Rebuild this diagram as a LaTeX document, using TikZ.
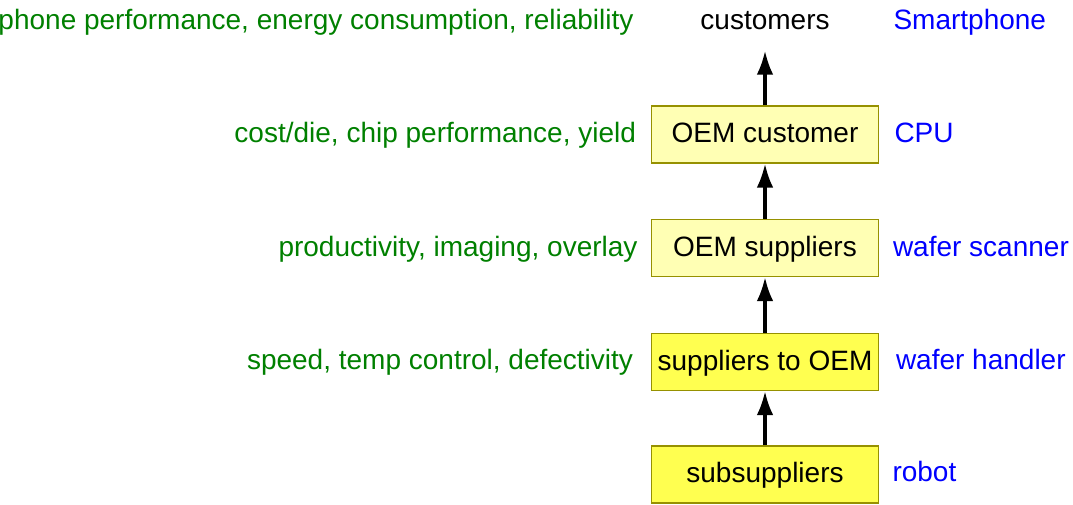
\documentclass[tikz,border=0pt]{standalone}
\usepackage{fontspec}
\setmainfont{Liberation Sans}
\usetikzlibrary{arrows.meta}

\definecolor{lightyel}{RGB}{255,255,180}
\definecolor{brightyel}{RGB}{255,255,80}
\definecolor{boxline}{RGB}{150,145,0}
\definecolor{critgreen}{RGB}{0,128,0}
\definecolor{prodblue}{RGB}{0,0,255}

\tikzset{every picture/.style={line width=0.75pt}}
\tikzset{
  level/.style={draw=boxline, line width=1pt, minimum width=170pt, minimum height=42.75pt,
    inner sep=0pt, text height=15pt, text depth=3pt, font=\fontsize{21}{24}\selectfont},
  crit/.style={text=critgreen, inner sep=0pt, anchor=base east, font=\fontsize{21}{24}\selectfont},
  prod/.style={text=prodblue, inner sep=0pt, anchor=base west, font=\fontsize{21}{24}\selectfont},
  flow/.style={line width=2.4pt, -{Latex[length=18pt,width=12.5pt]}}
}

\begin{document}
\begin{tikzpicture}[x=0.75pt,y=0.75pt,yscale=-1,xscale=1]
	\useasboundingbox (0,0) rectangle (1073,504);

	% Text Node
	\node (cust) [inner sep=0pt, anchor=base, font=\fontsize{21}{24}\selectfont] at (765,29.3) {customers};
	%Shape: Rectangle
	\node (oemc) [level, fill=lightyel] at (765,134.5) {OEM customer};
	%Shape: Rectangle
	\node (oems) [level, fill=lightyel] at (765,248) {OEM suppliers};
	%Shape: Rectangle
	\node (supp) [level, fill=brightyel] at (765,362) {suppliers to OEM};
	%Shape: Rectangle
	\node (subs) [level, fill=brightyel] at (765,474.5) {subsuppliers};

	%Straight Lines
	\draw [flow, shorten >=15.5pt] (oemc.north) -- (cust.south);
	\draw [flow] (oems.north) -- (oemc.south);
	\draw [flow] (supp.north) -- (oems.south);
	\draw [flow] (subs.north) -- (supp.south);

	% Text Node
	\node (c1) [crit] at (634,29.3) {phone performance, energy consumption, reliability};
	% Text Node
	\node (c2) [crit] at (636.5,142.7) {cost/die, chip performance, yield};
	% Text Node
	\node (c3) [crit] at (638,256) {productivity, imaging, overlay};
	% Text Node
	\node (c4) [crit] at (633.5,369.3) {speed, temp control, defectivity};

	% Text Node
	\node (p1) [prod] at (893,29.3) {Smartphone};
	% Text Node
	\node (p2) [prod] at (894,142.7) {CPU};
	% Text Node
	\node (p3) [prod] at (892.5,256) {wafer scanner};
	% Text Node
	\node (p4) [prod] at (895.5,369.3) {wafer handler};
	% Text Node
	\node (p5) [prod] at (892,481.7) {robot};

\end{tikzpicture}
\end{document}
